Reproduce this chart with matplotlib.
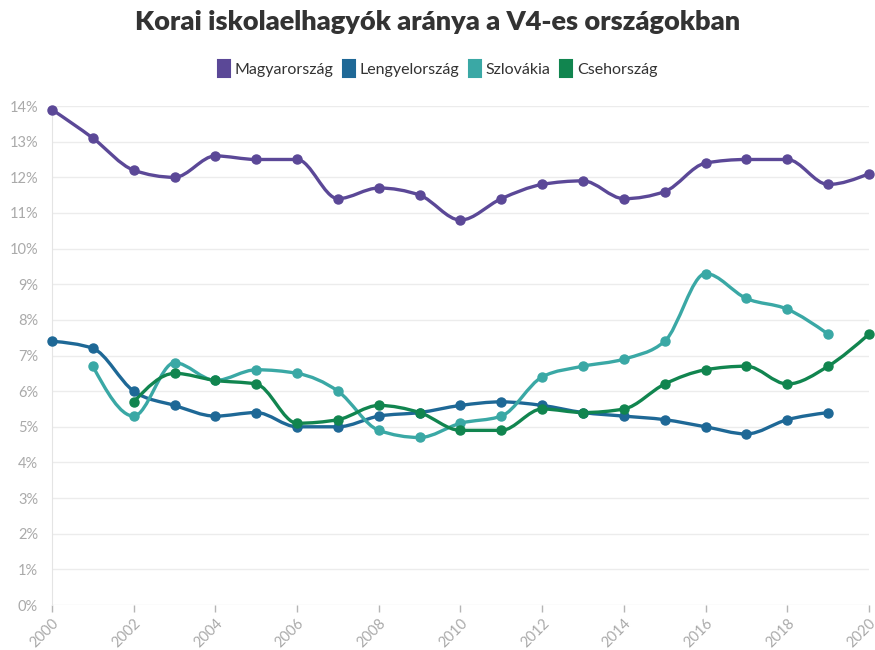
import matplotlib
matplotlib.use("Agg")
import matplotlib.pyplot as plt
from matplotlib.path import Path
from matplotlib.patches import PathPatch, Patch
import numpy as np

plt.rcParams['font.family'] = ['Lato', 'DejaVu Sans']

title = "Korai iskolaelhagyók aránya a V4-es országokban"

hu_years = list(range(2000, 2021))
hu_vals = [13.9, 13.1, 12.2, 12.0, 12.6, 12.5, 12.5, 11.4, 11.7, 11.5, 10.8,
           11.4, 11.8, 11.9, 11.4, 11.6, 12.4, 12.5, 12.5, 11.8, 12.1]

pl_years = list(range(2000, 2020))
pl_vals = [7.4, 7.2, 6.0, 5.6, 5.3, 5.4, 5.0, 5.0, 5.3, 5.4, 5.6,
           5.7, 5.6, 5.4, 5.3, 5.2, 5.0, 4.8, 5.2, 5.4]

sk_years = list(range(2001, 2020))
sk_vals = [6.7, 5.3, 6.8, 6.3, 6.6, 6.5, 6.0, 4.9, 4.7, 5.1,
           5.3, 6.4, 6.7, 6.9, 7.4, 9.3, 8.6, 8.3, 7.6]

cz_years = list(range(2002, 2021))
cz_vals = [5.7, 6.5, 6.3, 6.2, 5.1, 5.2, 5.6, 5.4, 4.9, 4.9,
           5.5, 5.4, 5.5, 6.2, 6.6, 6.7, 6.2, 6.7, 7.6]

series = [
    ("Magyarország", hu_years, hu_vals, "#5b4897"),
    ("Lengyelország", pl_years, pl_vals, "#1e6896"),
    ("Szlovákia", sk_years, sk_vals, "#3aa8a5"),
    ("Csehország", cz_years, cz_vals, "#11854f"),
]


def monotone_path(xs, ys):
    # monotone-x cubic curve as bezier segments
    x = np.asarray(xs, float)
    y = np.asarray(ys, float)
    n = len(x)
    h = np.diff(x)
    s = np.diff(y) / h
    t = np.zeros(n)
    for i in range(1, n - 1):
        s0, s1 = s[i - 1], s[i]
        p = (s0 * h[i] + s1 * h[i - 1]) / (h[i - 1] + h[i])
        t[i] = (np.sign(s0) + np.sign(s1)) * min(abs(s0), abs(s1), 0.5 * abs(p))
    t[0] = (3 * s[0] - t[1]) / 2
    t[-1] = (3 * s[-1] - t[-2]) / 2
    verts = [(x[0], y[0])]
    codes = [Path.MOVETO]
    for i in range(n - 1):
        dx = h[i] / 3
        verts += [(x[i] + dx, y[i] + dx * t[i]),
                  (x[i + 1] - dx, y[i + 1] - dx * t[i + 1]),
                  (x[i + 1], y[i + 1])]
        codes += [Path.CURVE4] * 3
    return Path(verts, codes)


fig = plt.figure(figsize=(8.75, 6.5), dpi=100)
ax = fig.add_axes([0.0594, 0.0692, 0.9337, 0.7677])

for name, xs, ys, col in series:
    ax.add_patch(PathPatch(monotone_path(xs, ys), facecolor="none",
                           edgecolor=col, lw=2.4, capstyle="round",
                           joinstyle="round", clip_on=False, zorder=3))
    ax.plot(xs, ys, "o", color=col, markersize=6.5, clip_on=False, zorder=4)

ax.set_xlim(2000, 2020)
ax.set_ylim(0, 14)
ax.set_xticks(range(2000, 2021, 2))
ax.set_yticks(range(0, 15))
ax.set_yticklabels([f"{v}%" for v in range(0, 15)])
for lab in ax.get_xticklabels():
    lab.set_rotation(45)
    lab.set_ha("right")
    lab.set_rotation_mode("anchor")
ax.tick_params(axis="x", colors="#b5b5b5", labelcolor="#aaaaaa", length=5,
               width=1, labelsize=10.5, pad=3)
ax.tick_params(axis="y", length=0, labelcolor="#aaaaaa", labelsize=10.5, pad=10)
ax.grid(axis="y", color="#ececec", lw=1)
ax.set_axisbelow(True)
for sp in ["top", "right", "bottom"]:
    ax.spines[sp].set_visible(False)
ax.spines["left"].set_color("#e4e4e4")

fig.text(0.5, 0.966, title, ha="center", va="center", fontsize=19.5,
         fontweight="heavy", color="#333333")

handles = [Patch(facecolor=c, edgecolor=c, lw=1.5, joinstyle="round")
           for _, _, _, c in series]
fig.legend(handles, [s[0] for s in series], loc="center",
           bbox_to_anchor=(0.5, 0.895), ncol=4, frameon=False,
           fontsize=11.5, handlelength=0.75, handleheight=1.3,
           handletextpad=0.3, columnspacing=0.6, labelcolor="#333333")

fig.savefig("out.png", dpi=100)
